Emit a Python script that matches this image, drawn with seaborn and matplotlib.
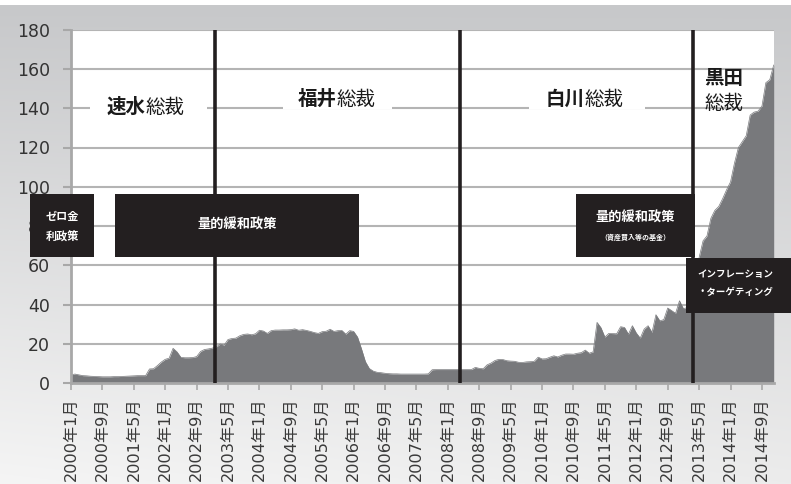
import numpy as np
import pandas as pd
import matplotlib
matplotlib.use("Agg")
import matplotlib.pyplot as plt
from matplotlib.patches import Rectangle
import seaborn as sns

# 日銀当座預金残高（兆円, 月次）2000年1月〜2014年12月
start_month = "2000-01"
y2000 = [4.3, 4.7, 4.3, 3.9, 3.8, 3.6, 3.5, 3.4, 3.3, 3.3, 3.3, 3.4]
y2001 = [3.4, 3.5, 3.6, 3.7, 3.8, 3.9, 3.9, 3.9, 7.3, 7.4, 9.0, 10.8]
y2002 = [12.2, 12.8, 17.8, 16.0, 13.2, 13.0, 13.0, 13.1, 13.6, 16.2, 17.2, 17.5]
y2003 = [17.9, 18.5, 20.0, 19.4, 22.3, 22.8, 23.0, 24.2, 24.9, 25.1, 24.7, 25.2]
y2004 = [27.0, 26.6, 25.4, 26.8, 27.1, 27.1, 27.2, 27.2, 27.3, 27.7, 27.0, 27.3]
y2005 = [26.9, 26.4, 25.8, 25.4, 26.3, 26.5, 27.5, 26.4, 26.8, 26.9, 25.0, 26.8]
y2006 = [26.4, 23.5, 17.5, 11.0, 7.5, 6.2, 5.6, 5.4, 5.1, 4.9, 4.8, 4.8]
y2007 = [4.7, 4.7, 4.7, 4.7, 4.7, 4.7, 4.7, 4.8, 6.9, 7.0, 7.0, 7.0]
y2008 = [7.0, 7.0, 7.0, 7.0, 7.0, 7.0, 7.0, 8.1, 7.6, 7.4, 9.4, 10.3]
y2009 = [11.6, 12.2, 12.1, 11.5, 11.3, 11.2, 10.7, 10.6, 10.9, 11.0, 11.2, 13.3]
y2010 = [12.4, 12.5, 13.3, 14.0, 13.4, 14.3, 14.9, 14.9, 14.8, 15.3, 15.6, 16.9]
y2011 = [15.3, 16.0, 31.0, 28.3, 23.5, 25.4, 25.3, 25.2, 28.8, 28.4, 25.0, 29.3]
y2012 = [25.6, 23.0, 27.6, 29.3, 25.9, 34.9, 31.8, 32.4, 38.3, 37.0, 35.6, 42.0]
y2013 = [38.0, 38.5, 40.0, 46.0, 64.0, 72.5, 75.0, 84.0, 88.0, 90.0, 94.0, 98.5]
y2014 = [102.5, 112.0, 120.0, 123.0, 126.0, 136.5, 138.0, 138.5, 141.0, 153.0, 154.5, 162.0]

yticks = [0, 20, 40, 60, 80, 100, 120, 140, 160, 180]
tick_every = 8  # months between x tick labels

# 総裁名（太字部分, 通常部分）
governor_bold = ["速水", "福井", "白川", "黒田"]
governor_plain = "総裁"
# 総裁交代を示す縦線の位置（2000年1月からの月数）
term_lines = [36.7, 99.0, 158.5]

balance = np.concatenate([y2000, y2001, y2002, y2003, y2004, y2005, y2006, y2007,
                          y2008, y2009, y2010, y2011, y2012, y2013, y2014])
months = pd.date_range(start_month, periods=len(balance), freq="MS")
df = pd.DataFrame({"idx": np.arange(len(balance)), "balance": balance})
tick_pos = df["idx"].values[::tick_every]
tick_labels = [f"{d.year}年{d.month}月" for d in months[::tick_every]]

sns.set_theme(style="white")
plt.rcParams["font.family"] = ["DejaVu Sans", "Noto Sans CJK JP"]
JP = ["Noto Sans CJK JP", "DejaVu Sans"]

AREA = "#78797c"
INK = "#231f20"
GRID = "#b4b4b4"

W, H = 791, 484
fig = plt.figure(figsize=(W / 100, H / 100), dpi=100)

# 背景のグラデーション
bg = fig.add_axes([0, 0, 1, 1], zorder=-10)
bg.axis("off")
yy = np.arange(H)[:, None] * np.ones((1, W))
xx = np.ones((H, 1)) * np.arange(W)[None, :]
t = np.clip((yy - 5) / (H - 5), 0, 1)
top = np.array([199, 200, 202]) / 255
bot = np.array([245, 245, 245]) / 255
img = top[None, None, :] + (bot - top)[None, None, :] * t[:, :, None]
img -= (0.035 * (xx / W) * t)[:, :, None]
img[yy < 5] = 1.0
bg.imshow(np.clip(img, 0, 1), extent=[0, 1, 0, 1], aspect="auto", origin="upper")
bg.set_xlim(0, 1)
bg.set_ylim(0, 1)

# メインの軸
x0, x1, ybase, ytop = 71, 773.7, 383.3, 29.6
ax = fig.add_axes([x0 / W, 1 - ybase / H, (x1 - x0) / W, (ybase - ytop) / H])
ax.set_facecolor("white")
ax.set_xlim(0, len(balance) - 1)
ax.set_ylim(0, 180)

sns.lineplot(data=df, x="idx", y="balance", ax=ax, color=AREA, linewidth=0.5, zorder=2)
ax.fill_between(df["idx"], df["balance"], color=AREA, linewidth=0, zorder=2)

ax.set_axisbelow(True)
ax.yaxis.grid(True, color=GRID, linewidth=1.5)
ax.xaxis.grid(False)
ax.set_yticks(yticks)
ax.set_xticks(tick_pos)
ax.set_xticklabels(tick_labels, rotation=90, fontsize=11.6, color="#3a3a3a")
ax.tick_params(axis="y", length=6, width=1.5, color="#a8a8a8", pad=9,
               labelsize=12.5, labelcolor="#333333", left=True)
ax.tick_params(axis="x", length=5, width=1.2, color="#a8a8a8", pad=5, bottom=True)
ax.set_xlabel("")
ax.set_ylabel("")
for s in ["top", "right"]:
    ax.spines[s].set_visible(False)
ax.spines["left"].set_color("#a8a8a8")
ax.spines["left"].set_linewidth(2)
ax.spines["bottom"].set_color("#a8a8a8")
ax.spines["bottom"].set_linewidth(2)

for xm in term_lines:
    ax.axvline(xm, color=INK, linewidth=2.6, zorder=4)

# 総裁名（白地で目盛線を切る）
def name_label(xc, yv, bold, plain, gap=None):
    if gap is not None:
        ax.add_patch(Rectangle((gap[0], yv - 5), gap[1] - gap[0], 10,
                               facecolor="white", edgecolor="none", zorder=1))
    ax.text(xc, yv, bold, ha="right", va="center", fontsize=14, fontweight="bold",
            family=JP, color="#1a1a1a", zorder=6)
    ax.text(xc, yv, plain, ha="left", va="center", fontsize=14,
            family=JP, color="#1a1a1a", zorder=6)

name_label(18.9, 140.5, governor_bold[0], governor_plain, (4.8, 34.6))
name_label(67.7, 144.5, governor_bold[1], governor_plain, (54.0, 81.8))
name_label(130.9, 144.5, governor_bold[2], governor_plain, (116.7, 146.2))
ax.text(166.3, 154.9, governor_bold[3], ha="center", va="center", fontsize=14,
        fontweight="bold", family=JP, color="#1a1a1a", zorder=6)
ax.text(166.3, 142.5, governor_plain, ha="center", va="center", fontsize=14,
        family=JP, color="#1a1a1a", zorder=6)

# 政策ボックス
def policy_box(xa, xb, ya, yb):
    ax.add_patch(Rectangle((xa, ya), xb - xa, yb - ya, facecolor=INK,
                           edgecolor="none", zorder=5, clip_on=False))

def box_text(x, y, s, size):
    ax.text(x, y, s, ha="center", va="center", fontsize=size, fontweight="bold",
            family=JP, color="white", zorder=7, clip_on=False)

policy_box(-10.4, 5.86, 64.3, 96.3)
box_text(-2.3, 85.1, "ゼロ金", 8)
box_text(-2.3, 74.4, "利政策", 8)

policy_box(11.2, 73.4, 64.3, 96.3)
box_text(42.3, 80.6, "量的緩和政策", 9.5)

policy_box(128.6, 158.9, 64.3, 96.3)
box_text(143.8, 84.5, "量的緩和政策", 9.5)
box_text(143.8, 74.3, "（資産買入等の基金）", 5)

policy_box(156.6, 184.0, 35.8, 63.8)
box_text(169.3, 55.5, "インフレーション", 6.8)
box_text(169.3, 46.5, "・ターゲティング", 6.8)

fig.savefig("out.png", dpi=100)
